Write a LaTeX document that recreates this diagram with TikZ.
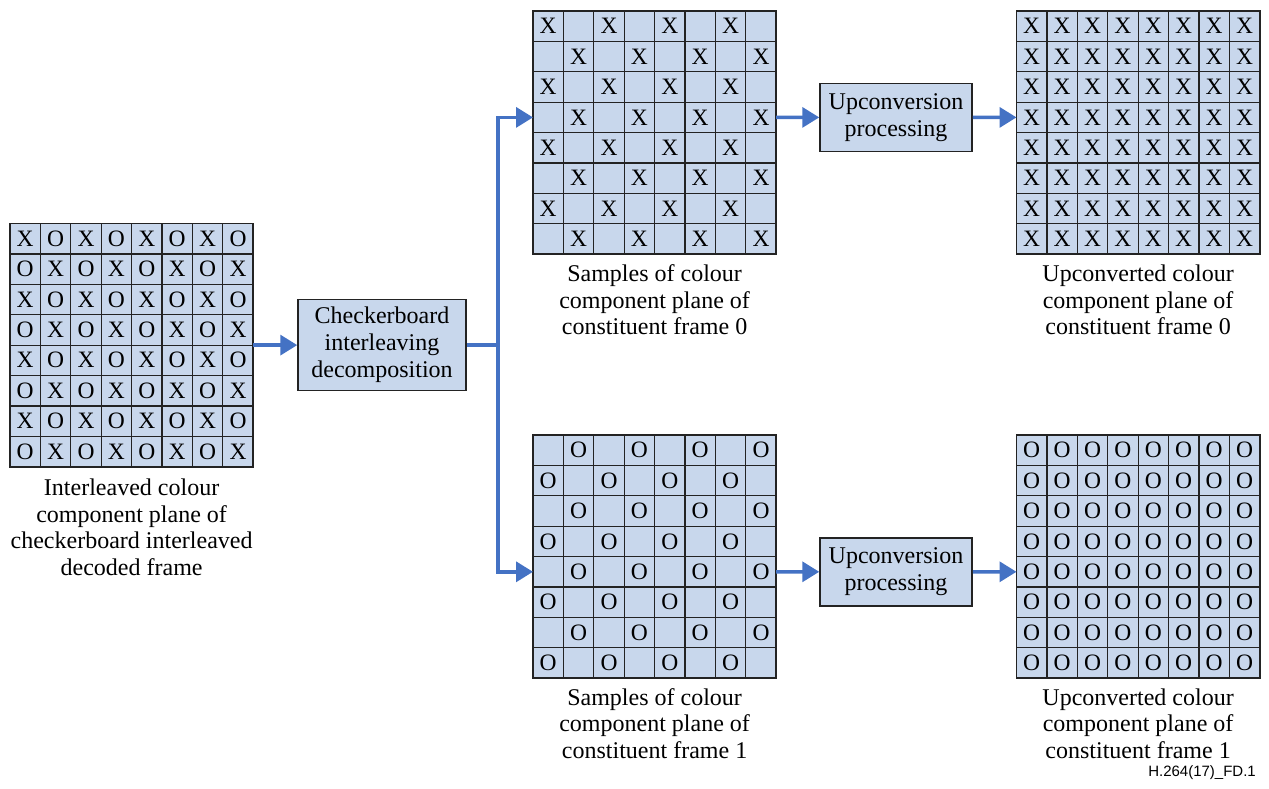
\documentclass[tikz,border=0pt]{standalone}
\usepackage{fontspec}
\setmainfont{Liberation Serif}
\newfontfamily\arialfont{Liberation Sans}
\usetikzlibrary{arrows.meta}
\definecolor{cellfill}{RGB}{200,215,236}
\definecolor{flowblue}{RGB}{68,114,196}
\definecolor{darkline}{RGB}{35,35,35}
\tikzset{
  gridbox/.style={draw=darkline, line width=1.6pt, fill=cellfill, minimum size=243.2pt, inner sep=0pt, outer sep=0pt},
  cell/.style={minimum size=30.4pt, inner sep=0pt, outer sep=0pt, font=\fontsize{23.5}{23.5}\selectfont},
  innerline/.style={draw=darkline, line width=1.2pt},
  procbox/.style={draw=darkline, line width=1.5pt, fill=cellfill, inner sep=0pt, align=center, font=\fontsize{24}{27}\selectfont},
  caption/.style={align=center, inner sep=0pt, anchor=north, font=\fontsize{24}{26.5}\selectfont},
  flow/.style={draw=flowblue, line width=3.5pt},
  flowarrow/.style={flow, -{Triangle[length=17pt, width=20pt]}},
}
\newcommand\drawgrid[5]{%
  \node[gridbox] (#1) at (#2+121.6,#3+121.6) {};
  \foreach \k in {1,...,7} {
    \draw[innerline] (#2+\k*30.4,#3) -- ++(0,243.2);
    \draw[innerline] (#2,#3+\k*30.4) -- ++(243.2,0);
  }
  \foreach \r in {0,...,7} {
    \foreach \c in {0,...,7} {
      \pgfmathtruncatemacro\pq{mod(\r+\c,2)}
      \ifnum\pq=0 \def\ltr{#4}\else\def\ltr{#5}\fi
      \node[cell] (#1-\r-\c) at (#2+15.2+\c*30.4,#3+15.2+\r*30.4) {\ltr};
    }
  }
}
\begin{document}
\begin{tikzpicture}[x=1pt,y=-1pt]
\useasboundingbox (0,0) rectangle (1269,789);

\drawgrid{ga}{10}{223.5}{X}{O}
\drawgrid{gb}{533}{11}{X}{}
\drawgrid{gc}{533}{435}{}{O}
\drawgrid{gd}{1016.5}{11}{X}{X}
\drawgrid{ge}{1016.5}{435}{O}{O}

\node[procbox, minimum width=168pt, minimum height=91pt] (cb) at (382,345.1) {Checkerboard\\interleaving\\decomposition};
\node[procbox, minimum width=152pt, minimum height=68pt] (upa) at (896,117.4) {Upconversion\\processing};
\node[procbox, minimum width=152pt, minimum height=68pt] (upb) at (896,571.8) {Upconversion\\processing};

\node[caption] (la) at ([yshift=-12pt]ga.south) {Interleaved colour\\component plane of\\checkerboard interleaved\\decoded frame};
\node[caption] (lb) at ([yshift=-10.5pt]gb.south) {Samples of colour\\component plane of\\constituent frame 0};
\node[caption] (lc) at ([yshift=-10pt]gc.south) {Samples of colour\\component plane of\\constituent frame 1};
\node[caption] (ld) at ([yshift=-10.5pt]gd.south) {Upconverted colour\\component plane of\\constituent frame 0};
\node[caption] (le) at ([yshift=-10pt]ge.south) {Upconverted colour\\component plane of\\constituent frame 1};

\node[anchor=base east, inner sep=0pt, font=\arialfont\fontsize{15}{18}\selectfont] (fd) at (1256,776) {H.264(17)\_FD.1};

\coordinate (split) at (498,345.1);
\draw[flowarrow] (ga.east) -- (cb.west);
\draw[flow] (cb.east) -- (split);
\draw[flowarrow] (split) |- (gb-3-0.west);
\draw[flowarrow] (split) |- (gc-4-0.west);
\draw[flowarrow] (gb-3-7.east) -- (upa.west);
\draw[flowarrow] (upa.east) -- (gd-3-0.west);
\draw[flowarrow] (gc-4-7.east) -- (upb.west);
\draw[flowarrow] (upb.east) -- (ge-4-0.west);
\end{tikzpicture}
\end{document}
